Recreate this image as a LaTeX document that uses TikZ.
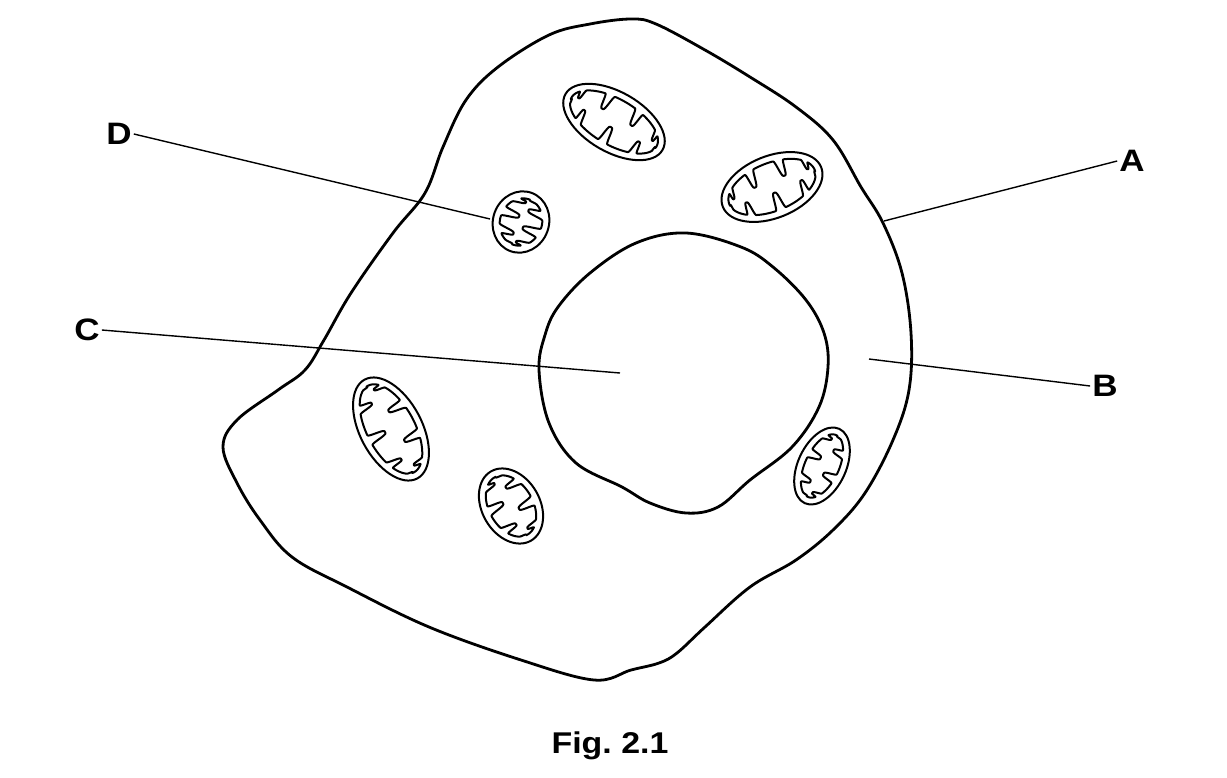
\documentclass[tikz,border=0pt]{standalone}
\usepackage{fontspec}
\setmainfont{Liberation Sans}
\newfontfamily\labelfont[FakeStretch=1.13]{Liberation Sans}
\tikzset{
	declare function={
		cv(\u,\w)=min(abs(\u)/\w,2.2);
		cg(\v)=exp(-1*\v*\v*\v*\v);
		crista(\t,\p,\w)=cg(cv(mod(\t+\p/4,\p)-\p/2,\w));
	},
	membrane/.style={line width=2.8pt, line join=round},
	mito line/.style={line width=2pt, line join=round},
	pointer/.style={line width=1.4pt},
	letter/.style={font=\labelfont\fontsize{31}{36}\selectfont\bfseries, inner sep=2pt}
}
\def\mito(#1)(#2:#3:#4:#5:#6){
	\begin{scope}[shift={(#1)}, rotate=#2]
		\draw[mito line] (0,0) ellipse ({#3} and {#4});
		\draw[mito line] plot[domain=0:360, samples=721] ({(#3-7)*cos(\x)}, {(#4-7)*sin(\x)*(1-#6*crista(\x,#5,210/(#3-7)))}) -- cycle;
	\end{scope}}

\begin{document}
\begin{tikzpicture}[x=1pt, y=-1pt]
			%%%%% START %%%%%
			\useasboundingbox (0,0) rectangle (1227,777);
			
			% cell surface
			\draw[membrane] plot[smooth cycle, tension=0.6] coordinates {
				(590,24) (631,19) (656,24) (705,50) (750,77) (796,107) (833,140)
				(861,187) (883,223) (902,273) (911,333) (909,390) (893,440) (865,493)
				(833,530) (796,560) (750,587) (705,627) (677,653) (659,663) (631,670)
				(594,680) (521,660) (429,627) (347,587) (292,557) (260,520) (237,483)
				(223,447) (237,420) (278,390) (305,370) (324,340) (351,293) (393,233)
				(425,193) (443,147) (466,100) (498,67) (549,35)};
			
			% nucleus
			\draw[membrane] plot[smooth cycle, tension=0.6] coordinates {
				(686,233) (741,247) (773,267) (806,300) (824,333) (828,367) (819,407)
				(792,447) (750,480) (718,507) (686,513) (650,503) (622,487) (576,463)
				(549,423) (539,370) (545,335) (558,307) (590,273) (636,243)};
			
			% mitochondria
			\mito(614,122)(-30:56:30:40:0.74)
			\mito(772,187)(22:53:31:40:0.74)
			\mito(521,222)(70:31:28:45:0.82)
			\mito(391,429)(-62:56:31:40:0.72)
			\mito(511,506)(-60:40:29:45:0.74)
			\mito(822,466)(65:41:24:45:0.72)
			
			% labels
			\node[letter] (D) at (119,134) {D};
			\coordinate (mitoD) at (490,219);
			\draw[pointer] (D.east) -- (mitoD);
			
			\node[letter] (A) at (1132,161) {A};
			\coordinate (surface) at (884,221);
			\draw[pointer] (A.west) -- (surface);
			
			\node[letter] (C) at (87,330) {C};
			\coordinate (nucleus) at (620,373);
			\draw[pointer] (C.east) -- (nucleus);
			
			\node[letter] (B) at (1105,386) {B};
			\coordinate (cytoplasm) at (869,359);
			\draw[pointer] (B.west) -- (cytoplasm);
			
			\node[font=\labelfont\fontsize{30}{34}\selectfont\bfseries] (fig) at (610,746) {Fig.\ 2.1};
			
			%%%%% END %%%%%
\end{tikzpicture}
\end{document}
